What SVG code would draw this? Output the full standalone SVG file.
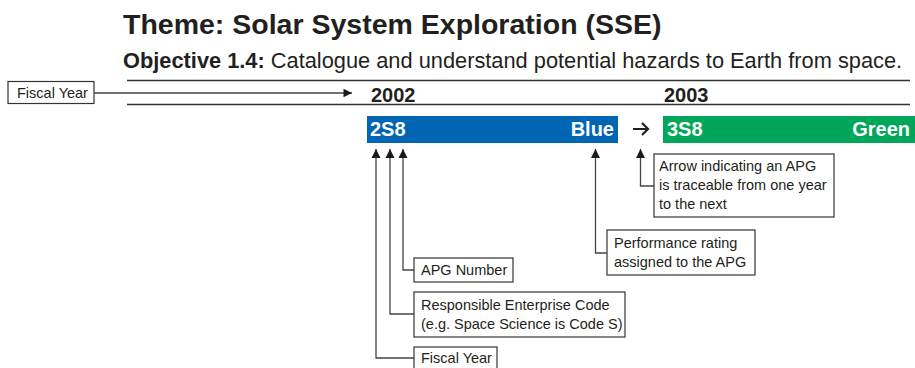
<svg xmlns="http://www.w3.org/2000/svg" width="915" height="368" viewBox="0 0 915 368">
<style>
text{font-family:"Liberation Sans",Arial,sans-serif;fill:#231f20}
.b{font-weight:bold}
.lbl{font-size:14.5px}
.box{fill:#fff;stroke:#333;stroke-width:1.2}
.rule{stroke:#333;stroke-width:1.3;fill:none}
.con{stroke:#444;stroke-width:1.3;fill:none}
.bar{font-size:20px;font-weight:bold;fill:#fff}
</style>
<defs>
<marker id="up" markerUnits="userSpaceOnUse" viewBox="0 0 10 10" refX="10" refY="5" markerWidth="9" markerHeight="11" orient="auto"><path d="M0,0 L10,5 L0,10 z" fill="#1a1a1a"/></marker>
<marker id="rt" markerUnits="userSpaceOnUse" viewBox="0 0 10 10" refX="10" refY="5" markerWidth="10" markerHeight="8.5" orient="auto"><path d="M0,0 L10,5 L0,10 z" fill="#1a1a1a"/></marker>
</defs>
<rect width="915" height="368" fill="#fff"/>
<g id="title"><text x="123" y="34" class="b" font-size="28.5">Theme: Solar System Exploration (SSE)</text></g>
<g id="objective"><text x="123" y="68" font-size="21.8"><tspan class="b">Objective 1.4:</tspan> Catalogue and understand potential hazards to Earth from space.</text></g>
<g id="year-rules">
<line class="rule" x1="127" y1="80.5" x2="910" y2="80.5"/>
<line class="rule" x1="127" y1="104.5" x2="910" y2="104.5"/>
</g>
<g id="fiscal-year-key"><rect class="box" x="8" y="81.5" width="86" height="22"/><text class="lbl" x="17" y="97.5">Fiscal Year</text></g>
<g id="year-2002"><text x="371" y="101.5" class="b" font-size="20">2002</text></g>
<g id="year-2003"><text x="664" y="101.5" class="b" font-size="20">2003</text></g>
<g id="apg-2002"><rect x="367" y="116" width="251" height="27" fill="#0066b3"/><text class="bar" x="370" y="135.5">2S8</text><text class="bar" x="614" y="135.5" text-anchor="end">Blue</text></g>
<g id="apg-2003"><rect x="663" y="116" width="252" height="27" fill="#00a65a"/><text class="bar" x="667" y="135.5">3S8</text><text class="bar" x="910" y="135.5" text-anchor="end">Green</text></g>
<g id="label-apg-number"><rect class="box" x="414" y="258" width="99" height="24"/><text class="lbl" x="421" y="275">APG Number</text></g>
<g id="label-enterprise"><rect class="box" x="414" y="292" width="211" height="45"/><text class="lbl" x="421" y="310">Responsible Enterprise Code</text><text class="lbl" x="421" y="329">(e.g. Space Science is Code S)</text></g>
<g id="label-fiscal-year"><rect class="box" x="414" y="347" width="83" height="22"/><text class="lbl" x="421" y="363">Fiscal Year</text></g>
<g id="label-performance"><rect class="box" x="607" y="230" width="148" height="45"/><text class="lbl" x="614" y="248">Performance rating</text><text class="lbl" x="614" y="267">assigned to the APG</text></g>
<g id="label-traceable"><rect class="box" x="654" y="154" width="180" height="63"/><text class="lbl" x="659" y="171">Arrow indicating an APG</text><text class="lbl" x="659" y="190">is traceable from one year</text><text class="lbl" x="659" y="209">to the next</text></g>
<g id="connectors">
<path class="con" d="M94 93 H352" marker-end="url(#rt)"/>
<path class="con" d="M414 358 H376 V149" marker-end="url(#up)"/>
<path class="con" d="M414 314 H390 V149" marker-end="url(#up)"/>
<path class="con" d="M414 270 H403 V149" marker-end="url(#up)"/>
<path class="con" d="M607 253 H595.5 V149" marker-end="url(#up)"/>
<path class="con" d="M654 186 H640.5 V149" marker-end="url(#up)"/>
<path d="M633 129 H648 M642 123 L648 129 L642 135" fill="none" stroke="#231f20" stroke-width="2.2"/>
</g>
</svg>
